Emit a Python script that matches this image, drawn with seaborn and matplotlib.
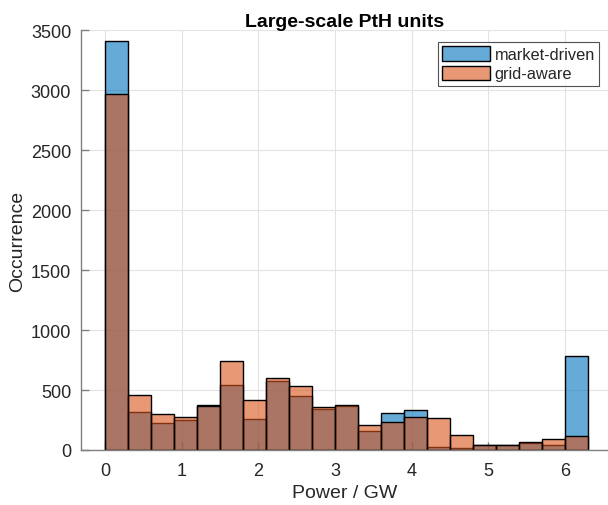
import numpy as np
import matplotlib
matplotlib.use('Agg')
import matplotlib.pyplot as plt
import seaborn as sns

# bin edges (GW) and counts per bin
bin_edges = [0.0, 0.3, 0.6, 0.9, 1.2, 1.5, 1.8, 2.1, 2.4, 2.7, 3.0,
             3.3, 3.6, 3.9, 4.2, 4.5, 4.8, 5.1, 5.4, 5.7, 6.0, 6.3]
market_driven = [3411, 315, 228, 247, 372, 544, 262, 572, 453, 342, 363,
                 161, 310, 331, 25, 18, 42, 42, 60, 45, 782]
grid_aware = [2967, 458, 300, 275, 370, 739, 415, 601, 534, 360, 376,
              212, 230, 277, 268, 127, 45, 44, 64, 88, 116]

x_ticks = [0, 1, 2, 3, 4, 5, 6]
y_ticks = [0, 500, 1000, 1500, 2000, 2500, 3000, 3500]

sns.set_style('white')
plt.rcParams['font.family'] = ['Liberation Sans', 'DejaVu Sans']

centers = [(a + b) / 2 for a, b in zip(bin_edges[:-1], bin_edges[1:])]

fig = plt.figure(figsize=(6.08, 5.06), dpi=100)
ax = fig.add_axes([0.133, 0.1087, 0.867, 0.83])

blue = (0.0, 0.447, 0.741)
orange = (0.85, 0.325, 0.098)
sns.histplot(x=centers, weights=market_driven, bins=bin_edges, ax=ax,
             color=blue, alpha=0.6, edgecolor='black', linewidth=1.0,
             label='market-driven')
sns.histplot(x=centers, weights=grid_aware, bins=bin_edges, ax=ax,
             color=orange, alpha=0.6, edgecolor='black', linewidth=1.0,
             label='grid-aware')

ax.set_xlim(-0.317, 6.56)
ax.set_ylim(0, 3500)
ax.set_xticks(x_ticks)
ax.set_yticks(y_ticks)
ax.grid(True, color='#e3e3e3', linewidth=0.8)
ax.set_axisbelow(True)
for s in ['top', 'right']:
    ax.spines[s].set_visible(False)
for s in ['left', 'bottom']:
    ax.spines[s].set_color('#808080')
    ax.spines[s].set_linewidth(1.0)
ax.tick_params(bottom=True, left=True, direction='in', length=6, width=1.0,
               color='#808080', labelsize=13, labelcolor='#262626')
ax.tick_params(axis='x', pad=9)
ax.tick_params(axis='y', pad=7)

ax.set_title('Large-scale PtH units', fontsize=14, fontweight='bold', pad=3,
             color='black')
ax.set_xlabel('Power / GW', fontsize=14, color='#262626', labelpad=3)
ax.set_ylabel('Occurrence', fontsize=14, color='#262626', labelpad=3)

leg = ax.legend(loc='upper right', bbox_to_anchor=(0.983, 0.971), fontsize=11.8,
                frameon=True, fancybox=False, edgecolor='#262626',
                handlelength=2.9, handleheight=1.0, handletextpad=0.3,
                borderpad=0.25, labelspacing=0.2, borderaxespad=0)
leg.get_frame().set_linewidth(0.8)

fig.savefig('out.png', dpi=100)
